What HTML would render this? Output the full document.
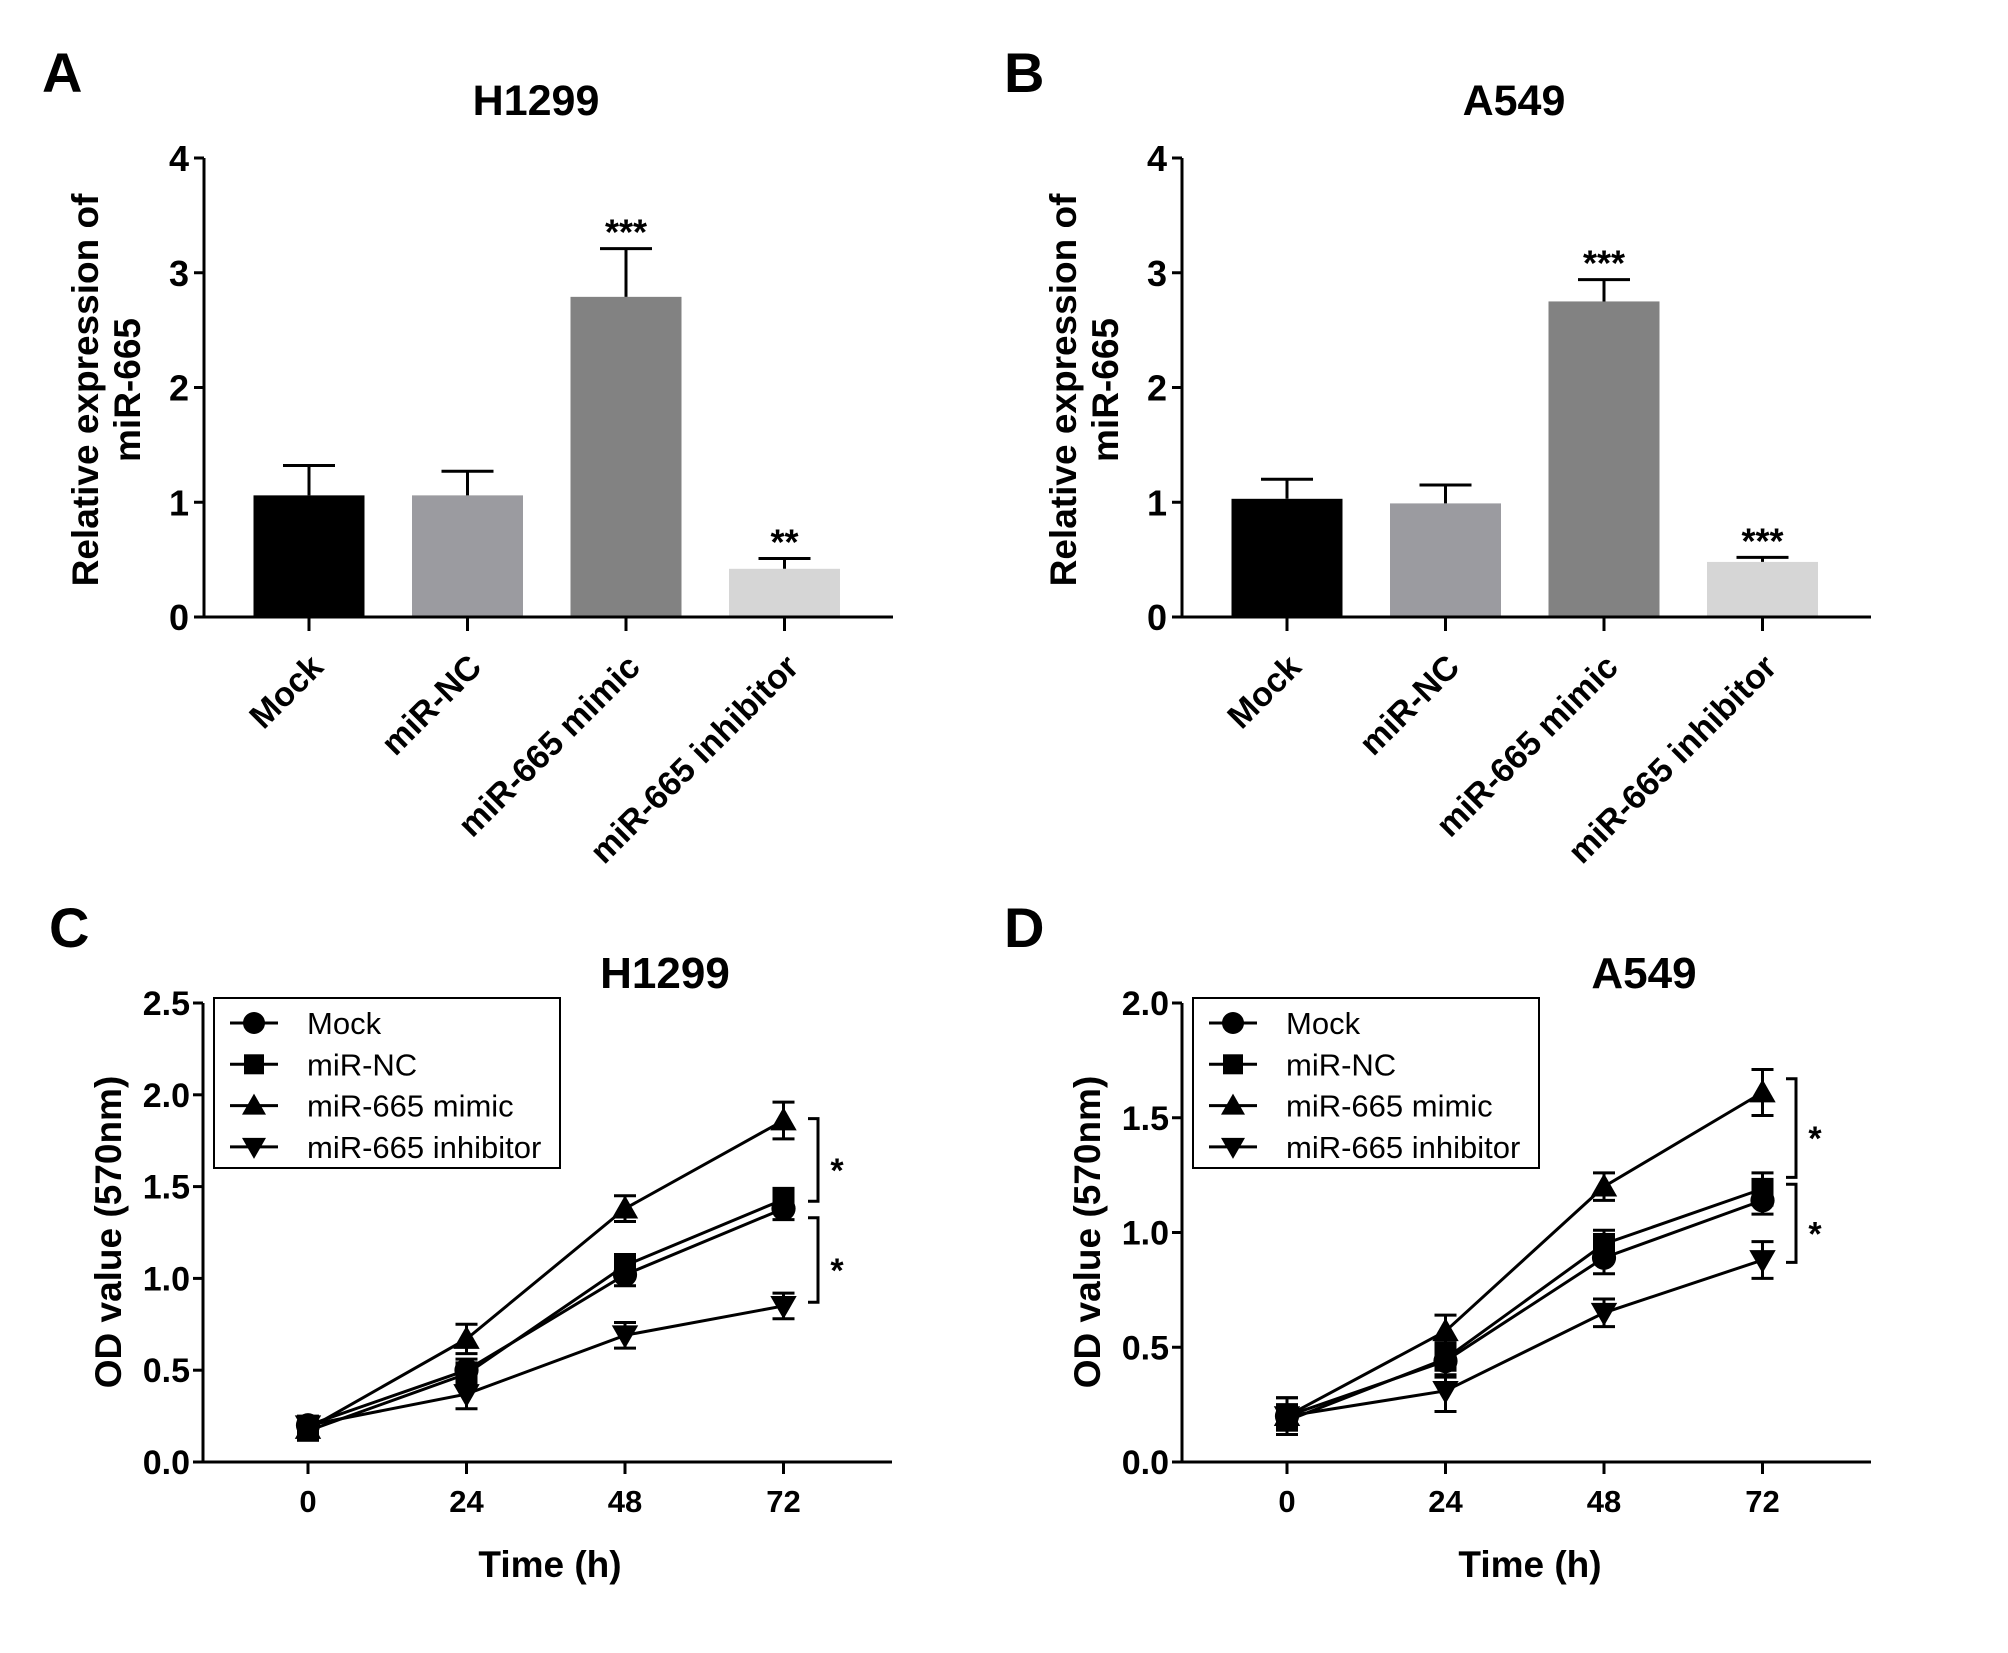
<!DOCTYPE html>
<html><head><meta charset="utf-8"><style>
html,body{margin:0;padding:0;background:#fff;}
svg{display:block;font-family:"Liberation Sans",Arial,sans-serif;}
</style></head><body>
<svg id="fig" width="2008" height="1653" viewBox="0 0 2008 1653" xmlns="http://www.w3.org/2000/svg"></svg>
<script>
// ---- Bar chart data (A, B) ----
const barCategories = ["Mock", "miR-NC", "miR-665 mimic", "miR-665 inhibitor"];
const barColors = ["#000000", "#9b9ba0", "#828282", "#d6d6d6"];
const barTicks = [0, 1, 2, 3, 4];
const h1299Means = [1.06, 1.06, 2.79, 0.42];
const h1299Errors = [0.26, 0.21, 0.42, 0.09];
const h1299Stars = ["", "", "***", "**"];
const a549Means = [1.03, 0.99, 2.75, 0.48];
const a549Errors = [0.17, 0.16, 0.19, 0.04];
const a549Stars = ["", "", "***", "***"];

// ---- Line chart data (C, D) ----
const timePoints = [0, 24, 48, 72];
const timeTicks = [0, 24, 48, 72];
const seriesNames = ["Mock", "miR-NC", "miR-665 mimic", "miR-665 inhibitor"];
const seriesMarkers = ["circle", "square", "up", "down"];
const cMock = [0.20, 0.50, 1.02, 1.38];
const cNC = [0.17, 0.48, 1.07, 1.43];
const cMimic = [0.18, 0.67, 1.38, 1.86];
const cInhib = [0.20, 0.37, 0.69, 0.85];
const cMockErr = [0.05, 0.06, 0.06, 0.06];
const cNCErr = [0.05, 0.06, 0.06, 0.06];
const cMimicErr = [0.04, 0.08, 0.07, 0.10];
const cInhibErr = [0.04, 0.08, 0.07, 0.07];
const cTicks = [0.0, 0.5, 1.0, 1.5, 2.0, 2.5];
const dMock = [0.20, 0.44, 0.89, 1.14];
const dNC = [0.18, 0.45, 0.95, 1.19];
const dMimic = [0.20, 0.57, 1.20, 1.61];
const dInhib = [0.20, 0.31, 0.65, 0.88];
const dMockErr = [0.08, 0.07, 0.07, 0.06];
const dNCErr = [0.06, 0.07, 0.06, 0.07];
const dMimicErr = [0.05, 0.07, 0.06, 0.10];
const dInhibErr = [0.08, 0.09, 0.06, 0.08];
const dTicks = [0.0, 0.5, 1.0, 1.5, 2.0];

const NS = "http://www.w3.org/2000/svg";
const svg = document.getElementById("fig");
function mk(tag, attrs, parent, text) {
  const e = document.createElementNS(NS, tag);
  for (const k in attrs) e.setAttribute(k, attrs[k]);
  if (text !== undefined) e.textContent = text;
  (parent || svg).appendChild(e);
  return e;
}

function panelLetter(letter, x, y) {
  const t = mk("text", {x: x, y: y, "font-size": 56, "font-weight": "bold"}, svg, letter);
  
  
}

function barPanel(id, axX, title, titleX, means, errs, stars) {
  const g = mk("g", {});
  
  
  const y0 = 617, yTop = 158, vmax = 4, axEnd = axX + 689;
  const sy = v => y0 - (y0 - yTop) * v / vmax;
  const x0 = axX + 105, step = 158.5, bw = 111;
  const sx = i => x0 + i * step;
  const tt = mk("text", {x: titleX, y: 115, "font-size": 43, "font-weight": "bold", "text-anchor": "middle"}, g, title);
  
  
  const yt = mk("text", {transform: `translate(${axX - 106},390) rotate(-90)`, "font-size": 37, "font-weight": "bold", "text-anchor": "middle"}, g);
  
  
  mk("tspan", {x: 0, y: 0}, yt, "Relative expression of");
  mk("tspan", {x: 0, y: 42}, yt, "miR-665");
  means.forEach((m, i) => {
    const cx = sx(i);
    const r = mk("rect", {x: cx - bw / 2, y: sy(m), width: bw, height: y0 - sy(m), fill: barColors[i]}, g);
    
    
    const e = mk("path", {d: `M${cx},${sy(m)} V${sy(m + errs[i])} M${cx - 26},${sy(m + errs[i])} H${cx + 26}`, stroke: "#000", "stroke-width": 3, fill: "none"}, g);
    
    
    if (stars[i]) {
      const s = mk("text", {x: cx, y: sy(m + errs[i]) - 4, "font-size": 36, "font-weight": "bold", "text-anchor": "middle"}, g, stars[i]);
      
      
    }
    const tk = mk("line", {x1: cx, x2: cx, y1: y0, y2: y0 + 14, stroke: "#000", "stroke-width": 3}, g);
    
    
    const lbl = mk("text", {x: cx + 16, y: y0 + 52, "font-size": 34, "font-weight": "bold", "text-anchor": "end", transform: `rotate(-45 ${cx + 16} ${y0 + 52})`}, g, barCategories[i]);
    
    
  });
  const ax = mk("path", {d: `M${axX},${yTop} V${y0} H${axEnd}`, stroke: "#000", "stroke-width": 3, fill: "none"}, g);
  
  
  barTicks.forEach(v => {
    const t = mk("line", {x1: axX - 10, x2: axX, y1: sy(v), y2: sy(v), stroke: "#000", "stroke-width": 3}, g);
    
    
    const l = mk("text", {x: axX - 15, y: sy(v) + 13, "font-size": 36, "font-weight": "bold", "text-anchor": "end"}, g, String(v));
    
    
  });
}

function marker(type, x, y, s, g) {
  let e;
  if (type === "circle") e = mk("circle", {cx: x, cy: y, r: s * 0.55, fill: "#000"}, g);
  else if (type === "square") e = mk("rect", {x: x - s / 2, y: y - s / 2, width: s, height: s, fill: "#000"}, g);
  else if (type === "up") e = mk("path", {d: `M${x},${y - s * 0.6} L${x + s * 0.6},${y + s * 0.45} L${x - s * 0.6},${y + s * 0.45}Z`, fill: "#000"}, g);
  else e = mk("path", {d: `M${x},${y + s * 0.6} L${x + s * 0.6},${y - s * 0.45} L${x - s * 0.6},${y - s * 0.45}Z`, fill: "#000"}, g);
  return e;
}

function linePanel(id, axX, title, titleX, vmax, ticks, series, errs, legX, brX, brackets, xtX) {
  const g = mk("g", {});
  
  
  const y0 = 1462, yTop = 1003, axEnd = axX + 689;
  const sy = v => y0 - (y0 - yTop) * v / vmax;
  const x0 = axX + 105, step = 158.5 / 24;
  const sx = t => x0 + t * step;
  const tt = mk("text", {x: titleX, y: 988, "font-size": 44, "font-weight": "bold", "text-anchor": "middle"}, g, title);
  
  
  const yt = mk("text", {transform: `translate(${axX - 82},1232) rotate(-90)`, "font-size": 37, "font-weight": "bold", "text-anchor": "middle"}, g, "OD value (570nm)");
  
  
  const xt = mk("text", {x: xtX, y: 1577, "font-size": 37, "font-weight": "bold", "text-anchor": "middle"}, g, "Time (h)");
  
  
  series.forEach((vals, si) => {
    const pts = vals.map((v, i) => `${sx(timePoints[i])},${sy(v)}`).join(" ");
    const pl = mk("polyline", {points: pts, fill: "none", stroke: "#000", "stroke-width": 3}, g);
    
    
    vals.forEach((v, i) => {
      const x = sx(timePoints[i]), e = errs[si][i];
      const eb = mk("path", {d: `M${x},${sy(v - e)} V${sy(v + e)} M${x - 11},${sy(v - e)} H${x + 11} M${x - 11},${sy(v + e)} H${x + 11}`, stroke: "#000", "stroke-width": 3, fill: "none"}, g);
      
      
      const m = marker(seriesMarkers[si], x, sy(v), 22, g);
      
      
    });
  });
  const ax = mk("path", {d: `M${axX},${yTop} V${y0} H${axEnd}`, stroke: "#000", "stroke-width": 3, fill: "none"}, g);
  
  
  ticks.forEach(v => {
    const t = mk("line", {x1: axX - 10, x2: axX, y1: sy(v), y2: sy(v), stroke: "#000", "stroke-width": 3}, g);
    
    
    const l = mk("text", {x: axX - 13, y: sy(v) + 12, "font-size": 34, "font-weight": "bold", "text-anchor": "end"}, g, v.toFixed(1));
    
    
  });
  timeTicks.forEach(t => {
    const tk = mk("line", {x1: sx(t), x2: sx(t), y1: y0, y2: y0 + 12, stroke: "#000", "stroke-width": 3}, g);
    
    
    const l = mk("text", {x: sx(t), y: 1512, "font-size": 31, "font-weight": "bold", "text-anchor": "middle"}, g, String(t));
    
    
  });
  const lg = mk("g", {}, g);
  
  
  mk("rect", {x: legX, y: 998, width: 346, height: 170, fill: "#fff", stroke: "#000", "stroke-width": 2}, lg);
  seriesNames.forEach((n, i) => {
    const y = 1023 + i * 41.3;
    const le = mk("g", {}, lg);
    
    
    mk("line", {x1: legX + 16, x2: legX + 64, y1: y, y2: y, stroke: "#000", "stroke-width": 3}, le);
    marker(seriesMarkers[i], legX + 40, y, 20, le);
    mk("text", {x: legX + 93, y: y + 11, "font-size": 31}, le, n);
  });
  brackets.forEach(b => {
    const p = mk("path", {d: `M${brX - 10},${sy(b[0])} H${brX} V${sy(b[1])} H${brX - 10}`, stroke: "#000", "stroke-width": 3, fill: "none"}, g);
    
    
    const s = mk("text", {x: brX + 19, y: (sy(b[0]) + sy(b[1])) / 2 + 22, "font-size": 34, "font-weight": "bold", "text-anchor": "middle"}, g, "*");
    
    
  });
}

panelLetter("A", 42, 92);
panelLetter("B", 1004, 92);
panelLetter("C", 49, 947);
panelLetter("D", 1004, 947);
barPanel("h1299", 204, "H1299", 536, h1299Means, h1299Errors, h1299Stars);
barPanel("a549", 1182, "A549", 1514, a549Means, a549Errors, a549Stars);
linePanel("h1299", 203, "H1299", 665, 2.5, cTicks, [cMock, cNC, cMimic, cInhib], [cMockErr, cNCErr, cMimicErr, cInhibErr], 214, 818, [[1.87, 1.42], [1.33, 0.87]], 550);
linePanel("a549", 1182, "A549", 1644, 2.0, dTicks, [dMock, dNC, dMimic, dInhib], [dMockErr, dNCErr, dMimicErr, dInhibErr], 1193, 1796, [[1.67, 1.24], [1.21, 0.87]], 1530);
</script>
</body></html>
